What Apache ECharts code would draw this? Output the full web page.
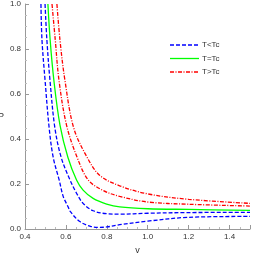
<!DOCTYPE html>
<html><head><meta charset="utf-8">
<script src="https://cdn.jsdelivr.net/npm/echarts@6/dist/echarts.min.js"></script>
<style>html,body{margin:0;padding:0;background:#fff}#c{width:253px;height:254px}</style>
</head><body><div id="c"></div>
<script>
// [v, P]
const blueLow  = [[0.478,1.0],[0.483,0.84],[0.498,0.662],[0.518,0.45],[0.538,0.318],[0.567,0.218],[0.587,0.144],[0.61,0.1],[0.622,0.077],[0.668,0.033],[0.72,0.012],[0.76,0.007],[0.80,0.009],[0.863,0.019],[1.0,0.035],[1.2,0.052],[1.5,0.056]];
const blueHigh = [[0.498,1.0],[0.507,0.84],[0.522,0.662],[0.546,0.45],[0.577,0.318],[0.620,0.218],[0.652,0.159],[0.684,0.114],[0.733,0.081],[0.799,0.068],[0.863,0.066],[1.0,0.070],[1.2,0.073],[1.5,0.074]];
const green    = [[0.512,1.0],[0.523,0.84],[0.541,0.662],[0.571,0.462],[0.610,0.318],[0.652,0.218],[0.684,0.173],[0.733,0.136],[0.799,0.111],[0.863,0.098],[1.0,0.090],[1.2,0.087],[1.5,0.083]];
const redLow   = [[0.532,1.0],[0.548,0.84],[0.566,0.662],[0.603,0.462],[0.655,0.318],[0.709,0.218],[0.78,0.172],[0.863,0.145],[1.0,0.12],[1.2,0.110],[1.5,0.102]];
const redHigh  = [[0.556,1.0],[0.571,0.84],[0.595,0.662],[0.638,0.45],[0.704,0.318],[0.766,0.238],[0.863,0.192],[1.0,0.156],[1.2,0.132],[1.5,0.114]];
const legendNames = ['T<Tc','T=Tc','T>Tc'];
const xTicks = {min:0.4, max:1.5, step:0.2};
const yTicks = {min:0, max:1.0, step:0.2};

const chart = echarts.init(document.getElementById('c'), null, {renderer:'canvas'});
const font = 'Liberation Sans, Arial, sans-serif';
const styles = [
  {color:'#0000ff', type:[4,2]},
  {color:'#00ff00', type:'solid'},
  {color:'#ff0000', type:[4,1.5,1,1.5]}
];
function ser(name, data, st){
  return {name, type:'line', data, smooth:0.35, showSymbol:false, symbol:'none', clip:true,
    lineStyle:{color:st.color, width:1.3, type:st.type}, itemStyle:{color:st.color}, emphasis:{disabled:true}};
}
const axisCommon = {
  axisLine:{show:true, onZero:false, lineStyle:{color:'#999', width:1}},
  axisTick:{show:true, inside:true, length:4, lineStyle:{color:'#999'}},
  minorTick:{show:true, splitNumber:4, length:2, lineStyle:{color:'#bbb'}},
  splitLine:{show:false}
};
const legendGraphics = [];
legendNames.forEach((n,i)=>{
  const y = 45 + i*13.5;
  legendGraphics.push({type:'line', shape:{x1:170, y1:y, x2:199, y2:y},
    style:{stroke:styles[i].color, lineWidth:1.3, lineDash: styles[i].type==='solid'?null:styles[i].type}});
  legendGraphics.push({type:'text', x:202, y:y, style:{text:n, fill:'#333', font:'8px '+font, textVerticalAlign:'middle', verticalAlign:'middle'}});
});
chart.setOption({
  animation:false,
  grid:{left:25, right:3, top:4, bottom:25, containLabel:false, outerBoundsMode:'none'},
  xAxis:Object.assign({type:'value', min:xTicks.min, max:xTicks.max, interval:xTicks.step,
    name:'v', nameLocation:'middle', nameGap:17, nameTextStyle:{color:'#333', fontSize:9, fontFamily:font}}, axisCommon,
    {axisLabel:{color:'#333', fontSize:8, fontFamily:font, margin:4, formatter:v=>v.toFixed(1), showMaxLabel:false}}),
  yAxis:Object.assign({type:'value', min:yTicks.min, max:yTicks.max, interval:yTicks.step,
    name:'P', nameLocation:'middle', nameGap:17, nameRotate:0, nameTextStyle:{color:'#333', fontSize:9, fontFamily:font}}, axisCommon,
    {axisLabel:{color:'#333', fontSize:8, fontFamily:font, margin:4, formatter:v=>v.toFixed(1)}}),
  graphic:legendGraphics,
  series:[
    ser('T<Tc', blueLow, styles[0]),
    ser('T<Tc', blueHigh, styles[0]),
    ser('T=Tc', green, styles[1]),
    ser('T>Tc', redLow, styles[2]),
    ser('T>Tc', redHigh, styles[2])
  ]
});
</script></body></html>
